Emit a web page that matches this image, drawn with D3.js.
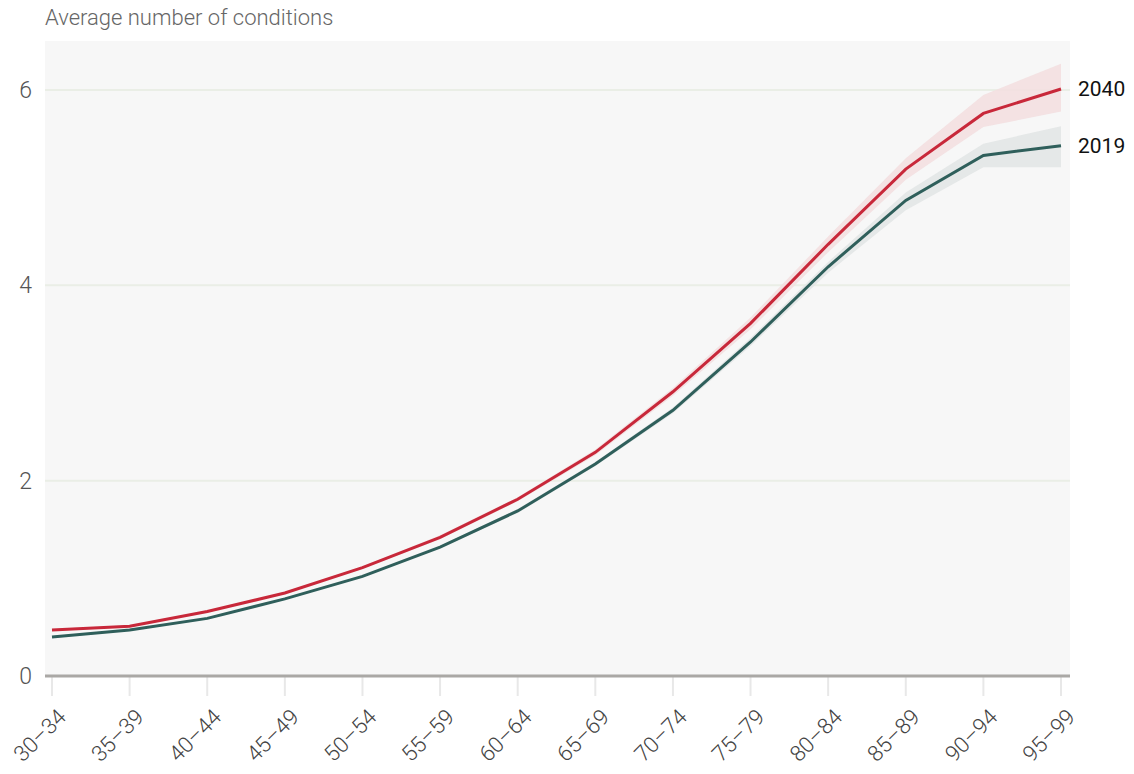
<!DOCTYPE html>
<html>
<head>
<meta charset="utf-8">
<script src="https://cdn.jsdelivr.net/npm/d3@7"></script>
<style>
  body { margin: 0; background: #fff; }
  svg { font-family: Roboto, "Liberation Sans", sans-serif; }
</style>
</head>
<body>
<div id="chart"></div>
<script>
// age groups on the x axis
var ageGroups = ["30–34", "35–39", "40–44", "45–49", "50–54", "55–59", "60–64",
                 "65–69", "70–74", "75–79", "80–84", "85–89", "90–94", "95–99"];

// average number of conditions, central estimate
var values2019 = [0.40, 0.47, 0.59, 0.79, 1.02, 1.32, 1.69, 2.17, 2.72, 3.42, 4.19, 4.87, 5.33, 5.43];
var values2040 = [0.47, 0.51, 0.66, 0.85, 1.11, 1.42, 1.81, 2.29, 2.91, 3.61, 4.42, 5.19, 5.76, 6.01];

// uncertainty bands
var low2019  = [0.39, 0.46, 0.58, 0.78, 1.01, 1.31, 1.67, 2.15, 2.69, 3.38, 4.13, 4.77, 5.21, 5.21];
var high2019 = [0.41, 0.48, 0.60, 0.80, 1.03, 1.33, 1.71, 2.19, 2.75, 3.46, 4.24, 4.95, 5.45, 5.63];
var low2040  = [0.46, 0.50, 0.65, 0.84, 1.10, 1.40, 1.79, 2.26, 2.87, 3.55, 4.34, 5.08, 5.62, 5.78];
var high2040 = [0.48, 0.52, 0.67, 0.86, 1.12, 1.44, 1.83, 2.32, 2.95, 3.67, 4.50, 5.30, 5.95, 6.27];

var yTicks = [0, 2, 4, 6];

var width = 1134, height = 774;
var plotLeft = 45, plotRight = 1070, plotTop = 41, plotBottom = 676;

var svg = d3.select("#chart").append("svg")
    .attr("width", width)
    .attr("height", height);

var x = d3.scalePoint()
    .domain(ageGroups)
    .range([52, 1061]);

var y = d3.scaleLinear()
    .domain([0, 6])
    .range([plotBottom, 90]);

// plot background
svg.append("rect")
    .attr("x", plotLeft)
    .attr("y", plotTop)
    .attr("width", plotRight - plotLeft)
    .attr("height", plotBottom - plotTop)
    .attr("fill", "#f7f7f7");

// title
svg.append("text")
    .attr("x", plotLeft)
    .attr("y", 25)
    .attr("font-size", 22)
    .attr("font-weight", 300)
    .attr("fill", "#666")
    .text("Average number of conditions");

// gridlines
svg.append("g").selectAll("line")
    .data(yTicks.filter(function (d) { return d > 0; }))
    .enter()
    .append("line")
    .attr("x1", plotLeft)
    .attr("x2", plotRight)
    .attr("y1", function (d) { return y(d); })
    .attr("y2", function (d) { return y(d); })
    .attr("stroke", "#eaeee6")
    .attr("stroke-width", 2);

// y axis labels
svg.append("g").selectAll("text")
    .data(yTicks)
    .enter()
    .append("text")
    .attr("x", 32)
    .attr("y", function (d) { return y(d); })
    .attr("dy", "0.35em")
    .attr("text-anchor", "end")
    .attr("font-size", 23)
    .attr("font-weight", 300)
    .attr("fill", "#555")
    .text(function (d) { return d; });

// x ticks
svg.append("g").selectAll("line")
    .data(ageGroups)
    .enter()
    .append("line")
    .attr("x1", function (d) { return x(d); })
    .attr("x2", function (d) { return x(d); })
    .attr("y1", plotBottom)
    .attr("y2", 696)
    .attr("stroke", "#e8e8e8")
    .attr("stroke-width", 2);

// x labels
svg.append("g").selectAll("text")
    .data(ageGroups)
    .enter()
    .append("text")
    .attr("text-anchor", "end")
    .attr("font-size", 22)
    .attr("font-weight", 300)
    .attr("fill", "#444")
    .attr("transform", function (d) {
        return "translate(" + (x(d) + 10) + "," + 713 + ") rotate(-45)";
    })
    .attr("dy", "0.35em")
    .text(function (d) { return d; });

// baseline
svg.append("line")
    .attr("x1", plotLeft)
    .attr("x2", plotRight)
    .attr("y1", y(0))
    .attr("y2", y(0))
    .attr("stroke", "#aaa8a5")
    .attr("stroke-width", 3);

var series = [
    { name: "2019", values: values2019, low: low2019, high: high2019, color: "#2f5f5b", band: "#e2e6e6" },
    { name: "2040", values: values2040, low: low2040, high: high2040, color: "#c8283a", band: "#f3dfe0" }
];

var area = d3.area()
    .x(function (d, i) { return x(ageGroups[i]); })
    .y0(function (d) { return y(d[0]); })
    .y1(function (d) { return y(d[1]); });

var line = d3.line()
    .x(function (d, i) { return x(ageGroups[i]); })
    .y(function (d) { return y(d); });

series.forEach(function (s) {
    svg.append("path")
        .datum(s.low.map(function (v, i) { return [v, s.high[i]]; }))
        .attr("fill", s.band)
        .attr("opacity", 0.9)
        .attr("d", area);
});

series.forEach(function (s) {
    svg.append("path")
        .datum(s.values)
        .attr("fill", "none")
        .attr("stroke", s.color)
        .attr("stroke-width", 3)
        .attr("d", line);

    svg.append("text")
        .attr("x", 1078)
        .attr("y", y(s.values[s.values.length - 1]))
        .attr("dy", "0.35em")
        .attr("font-size", 21)
        .attr("fill", "#111")
        .text(s.name);
});
</script>
</body>
</html>
